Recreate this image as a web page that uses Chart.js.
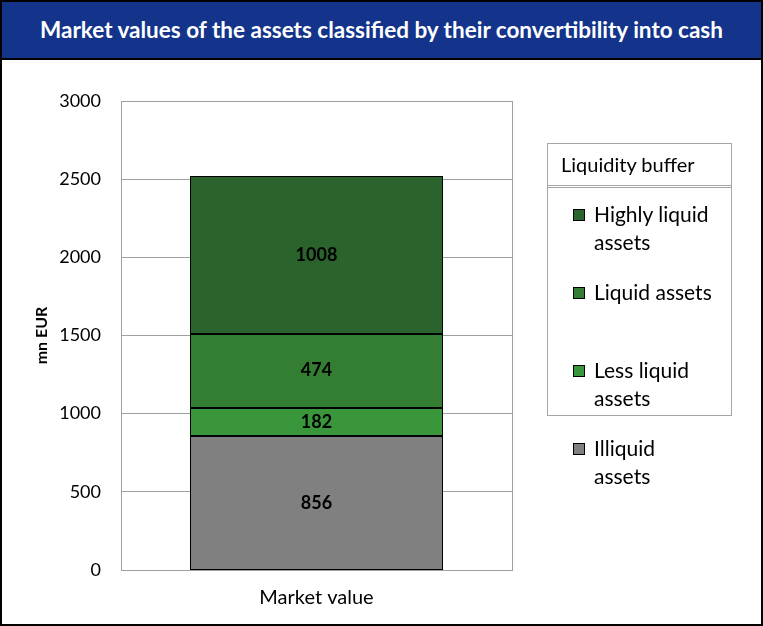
<!DOCTYPE html>
<html lang="en">
<head>
  <meta charset="UTF-8">
  <title>Market values of the assets</title>
  <style>
    body {
      margin: 0;
      font-family: Lato, Arial, sans-serif;
      background: #ffffff;
    }

    #frame {
      position: relative;
      width: 759px;
      height: 622px;
      border: 2px solid #000;
      overflow: hidden;
    }

    #banner {
      position: absolute;
      left: 0;
      top: 0;
      width: 759px;
      height: 56px;
      background: #13348a;
      border-bottom: 2px solid #000;
      color: #fff;
      font-weight: bold;
      font-size: 22.5px;
      line-height: 56px;
      text-align: center;
    }

    #chartCanvas {
      position: absolute;
      left: -2px;
      top: -2px;
    }

    #legendBox {
      position: absolute;
      left: 545px;
      top: 141px;
      width: 183px;
      height: 271px;
      border: 1px solid #a6a6a6;
    }

    #legendHead {
      height: 41px;
      line-height: 40px;
      font-size: 20px;
      padding-left: 13px;
      border-bottom: 3px double #a6a6a6;
    }

    .item {
      position: absolute;
      font-size: 21px;
      line-height: 28px;
      color: #000;
    }

    .swatch {
      position: absolute;
      left: -21px;
      top: 9px;
      width: 10px;
      height: 10px;
      border: 1px solid #000;
    }
  </style>
</head>
<body>

  <div id="frame">
    <canvas id="chartCanvas" width="763" height="626"></canvas>
    <div id="banner">Market values of the assets classified by their convertibility into cash</div>
    <div id="legendBox"><div id="legendHead">Liquidity buffer</div></div>
  </div>

  <script src="https://cdn.jsdelivr.net/npm/chart.js"></script>
  <script>
    // Categories and series (bottom to top of the stack)
    const categories = ['Market value'];
    const seriesNames = ['Illiquid assets', 'Less liquid assets', 'Liquid assets', 'Highly liquid assets'];
    const seriesValues = [[856], [182], [474], [1008]];
    const seriesColors = ['#808080', '#3a963a', '#347e34', '#2a632b'];
    const yTicks = [0, 500, 1000, 1500, 2000, 2500, 3000];

    // Legend rows as drawn in the reference (text lines and top position)
    const legendRows = [
      { idx: 3, lines: ['Highly liquid', 'assets'], top: 198 },
      { idx: 2, lines: ['Liquid assets'], top: 276 },
      { idx: 1, lines: ['Less liquid', 'assets'], top: 354 },
      { idx: 0, lines: ['Illiquid', 'assets'], top: 432 }
    ];

    const frame = document.getElementById('frame');
    legendRows.forEach(row => {
      const el = document.createElement('div');
      el.className = 'item';
      el.style.left = '592px';
      el.style.top = row.top + 'px';
      el.innerHTML = row.lines.join('<br>');
      const sw = document.createElement('div');
      sw.className = 'swatch';
      sw.style.background = seriesColors[row.idx];
      el.appendChild(sw);
      frame.appendChild(el);
    });

    // Crisp black outline around each segment, then its value in the middle
    const segmentLabels = {
      id: 'segmentLabels',
      afterDatasetsDraw(chart) {
        const ctx = chart.ctx;
        ctx.save();
        ctx.strokeStyle = '#000';
        ctx.lineWidth = 1;
        chart.data.datasets.forEach((ds, i) => {
          chart.getDatasetMeta(i).data.forEach(bar => {
            const x0 = Math.round(bar.x - bar.width / 2) + 0.5;
            const x1 = Math.round(bar.x + bar.width / 2) - 0.5;
            const y0 = Math.round(Math.min(bar.y, bar.base)) + 0.5;
            const y1 = Math.round(Math.max(bar.y, bar.base)) - 0.5;
            ctx.strokeRect(x0, y0, x1 - x0, y1 - y0);
          });
        });
        ctx.font = 'bold 18px Lato, Arial, sans-serif';
        ctx.fillStyle = '#000';
        ctx.textAlign = 'center';
        ctx.textBaseline = 'middle';
        chart.data.datasets.forEach((ds, i) => {
          chart.getDatasetMeta(i).data.forEach((bar, j) => {
            const mid = (bar.y + bar.base) / 2;
            ctx.fillText(String(ds.data[j]), bar.x, mid);
          });
        });
        ctx.restore();
      }
    };

    // Gray frame around the plot area
    const plotFrame = {
      id: 'plotFrame',
      beforeDatasetsDraw(chart) {
        const a = chart.chartArea;
        const ctx = chart.ctx;
        ctx.save();
        ctx.strokeStyle = '#a0a0a0';
        ctx.lineWidth = 1;
        ctx.strokeRect(Math.round(a.left) + 0.5, Math.round(a.top) + 0.5,
          Math.round(a.right - a.left), Math.round(a.bottom - a.top));
        ctx.restore();
      }
    };

    const ctx = document.getElementById('chartCanvas').getContext('2d');
    new Chart(ctx, {
      type: 'bar',
      data: {
        labels: categories,
        datasets: seriesNames.map((name, i) => ({
          label: name,
          data: seriesValues[i],
          backgroundColor: seriesColors[i],
          borderWidth: 0,
          barPercentage: 0.645,
          categoryPercentage: 1
        }))
      },
      options: {
        responsive: false,
        animation: false,
        devicePixelRatio: 1,
        layout: {
          padding: { left: 30, top: 101, right: 251, bottom: 8 }
        },
        plugins: {
          legend: { display: false },
          tooltip: { enabled: false }
        },
        scales: {
          x: {
            stacked: true,
            grid: { display: false },
            border: { color: '#a0a0a0' },
            ticks: {
              color: '#000',
              padding: 8,
              font: { family: 'Lato, Arial, sans-serif', size: 20 }
            }
          },
          y: {
            stacked: true,
            min: 0,
            max: 3000,
            afterBuildTicks: scale => {
              scale.ticks = yTicks.map(v => ({ value: v }));
            },
            afterFit: scale => {
              scale.width = 91;
            },
            grid: { color: '#a0a0a0', drawTicks: false },
            border: { color: '#a0a0a0' },
            ticks: {
              color: '#000',
              padding: 20,
              callback: v => String(v),
              font: { family: 'Lato, Arial, sans-serif', size: 18 }
            },
            title: {
              display: true,
              text: 'mn EUR',
              color: '#000',
              padding: 2,
              font: { family: 'Lato, Arial, sans-serif', size: 16, weight: 'bold' }
            }
          }
        }
      },
      plugins: [segmentLabels, plotFrame]
    });
  </script>

</body>
</html>
